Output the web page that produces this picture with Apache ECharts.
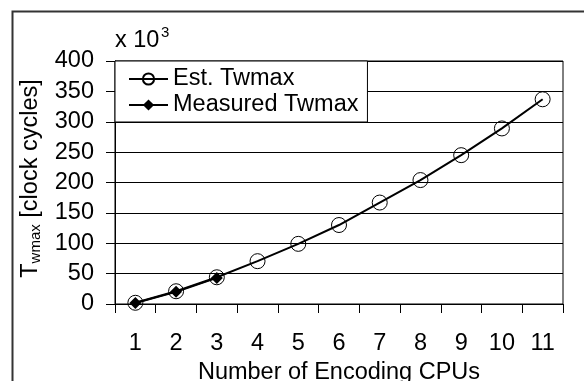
<!DOCTYPE html>
<html><head><meta charset="utf-8">
<script src="https://cdn.jsdelivr.net/npm/echarts@6/dist/echarts.min.js"></script>
<style>html,body{margin:0;padding:0;background:#fff}#c{width:584px;height:381px}</style>
</head><body><div id="c"></div>
<script>
var categories = ['1','2','3','4','5','6','7','8','9','10','11'];
var estTwmax = [2, 21, 44, 70.5, 99, 130, 167, 204, 245, 289, 337];
var measuredTwmax = [1.5, 20, 43];
var yTicks = {min: 0, max: 400, interval: 50};
var FONT = 'Liberation Sans';
var FS = 23.5;
var chart = echarts.init(document.getElementById('c'), null, {renderer: 'canvas'});
chart.setOption({
  backgroundColor: '#fff',
  animation: false,
  textStyle: {fontFamily: FONT, color: '#000'},
  grid: {left: 115, top: 61, right: 21, bottom: 77, show: true, borderColor: '#000', borderWidth: 1, backgroundColor: 'transparent', containLabel: false, outerBoundsMode: 'none'},
  graphic: [
    {type: 'rect', left: 10, top: 9, z: -1, silent: true, shape: {width: 600, height: 400}, style: {fill: 'none', stroke: '#333', lineWidth: 2}},
    {type: 'text', left: 115, top: 29, style: {text: 'x 10', font: FS + 'px "' + FONT + '"', fill: '#000'}},
    {type: 'text', left: 161, top: 25, style: {text: '3', font: '15px "' + FONT + '"', fill: '#000'}}
  ],
  legend: {
    orient: 'vertical', left: 115, top: 61,
    backgroundColor: '#fff', borderColor: '#000', borderWidth: 1,
    padding: [6, 9, 5, 13],
    itemWidth: 39, itemHeight: 14, itemGap: 2,
    textStyle: {fontFamily: FONT, fontSize: FS, color: '#000', lineHeight: 24},
    data: ['Est. Twmax', 'Measured Twmax']
  },
  xAxis: {
    type: 'category', data: categories, boundaryGap: true,
    name: 'Number of Encoding CPUs', nameLocation: 'middle', nameGap: 54,
    nameTextStyle: {fontFamily: FONT, fontSize: FS, color: '#000'},
    axisLine: {lineStyle: {color: '#000', width: 1}},
    axisTick: {show: true, length: 9, lineStyle: {color: '#000'}},
    axisLabel: {fontFamily: FONT, fontSize: FS, color: '#000', margin: 28},
    splitLine: {show: false}
  },
  yAxis: {
    type: 'value', min: yTicks.min, max: yTicks.max, interval: yTicks.interval,
    name: '{a|T}{b|wmax}{a| [clock cycles]}', nameLocation: 'middle', nameGap: 72, nameRotate: 90,
    nameTextStyle: {padding: [0, 0, 0, 8], rich: {a: {fontFamily: FONT, fontSize: FS, color: '#000'}, b: {fontFamily: FONT, fontSize: 15, color: '#000', verticalAlign: 'bottom', padding: [6, 0, 0, 0]}}},
    axisLine: {show: true, lineStyle: {color: '#000', width: 1}},
    axisTick: {show: true, length: 9, lineStyle: {color: '#000'}},
    axisLabel: {fontFamily: FONT, fontSize: FS, color: '#000', margin: 21},
    splitLine: {show: true, lineStyle: {color: '#000', width: 1}}
  },
  series: [
    {name: 'Est. Twmax', type: 'line', data: estTwmax, symbol: 'circle', symbolSize: 15, smooth: false,
     itemStyle: {color: 'rgba(0,0,0,0)', borderColor: '#000', borderWidth: 1},
     lineStyle: {color: '#000', width: 2}},
    {name: 'Measured Twmax', type: 'line', data: measuredTwmax, symbol: 'diamond', symbolSize: 12,
     itemStyle: {color: '#000', borderColor: '#000', borderWidth: 0},
     lineStyle: {color: '#000', width: 2}}
  ]
});
</script></body></html>
